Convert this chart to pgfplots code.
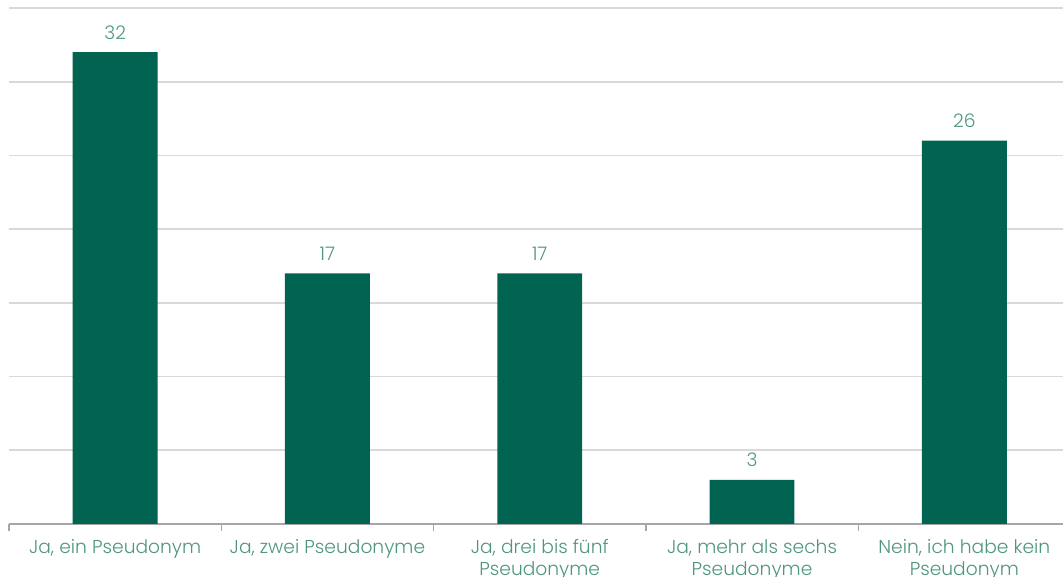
\documentclass[border=0pt]{standalone}
\usepackage{fontspec}
\setmainfont{Poppins}[UprightFont=* Light]
\usepackage{pgfplots}
\pgfplotsset{compat=1.18}
\definecolor{barc}{HTML}{006450}
\definecolor{txtc}{HTML}{4F9582}
\definecolor{gridc}{HTML}{D9D9D9}
\definecolor{axc}{HTML}{A6A6A6}
\begin{document}
\begin{tikzpicture}
\begin{axis}[
  at={(0pt,0pt)}, anchor=south west,
  scale only axis,
  width=796.1pt, height=387pt,
  xmin=-0.5, xmax=4.5,
  ymin=0, ymax=35,
  ytick={5,10,...,35},
  yticklabels={},
  ymajorgrids,
  grid style={gridc, line width=1.2pt},
  major y tick style={draw=none},
  axis x line*=bottom,
  y axis line style={draw=none},
  x axis line style={axc, line width=1.2pt},
  xtick={0,1,2,3,4},
  major x tick style={draw=none},
  minor xtick={-0.5,0.5,1.5,2.5,3.5,4.5},
  minor x tick style={axc, line width=1pt},
  minor tick length=5pt,
  tick align=outside,
  /pgf/number format/assume math mode=true,
  xticklabels={{Ja, ein Pseudonym},{Ja, zwei Pseudonyme},{Ja, drei bis fünf\\Pseudonyme},{Ja, mehr als sechs\\Pseudonyme},{Nein, ich habe kein\\Pseudonym}},
  xticklabel style={align=center, text=txtc, font=\fontsize{14}{16.5}\selectfont, yshift=-4pt},
  bar width=0.4,
  nodes near coords,
  every node near coord/.append style={text=txtc, font=\fontsize{14}{15}\selectfont, yshift=6pt},
  clip=false,
]
\addplot[ybar, fill=barc, draw=none] coordinates {(0,32) (1,17) (2,17) (3,3) (4,26)};
\end{axis}
\pgfresetboundingbox
\useasboundingbox (-6.75pt,-39.75pt) rectangle (790.5pt,393pt);
\end{tikzpicture}
\end{document}
